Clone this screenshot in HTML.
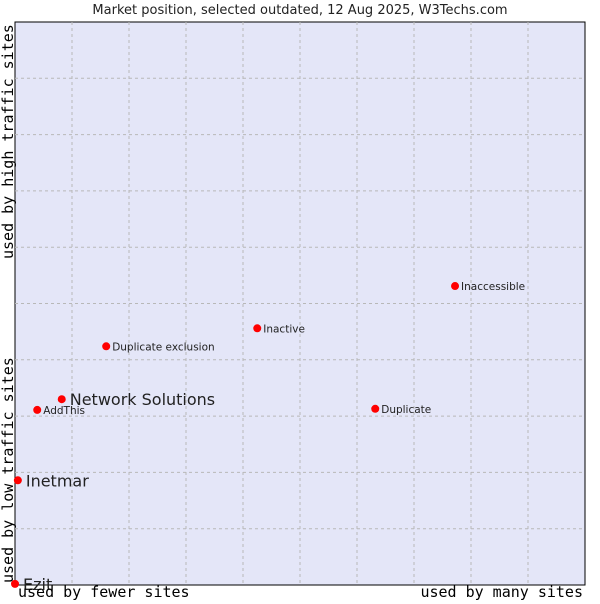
<!DOCTYPE html>
<html><head><meta charset="utf-8"><style>
body{margin:0;background:#fff;font-family:"DejaVu Sans","Liberation Sans",sans-serif}
svg text{font-family:"DejaVu Sans","Liberation Sans",sans-serif}
.mono{font-family:"DejaVu Sans Mono","Liberation Mono",monospace}
</style></head><body>
<svg id="chart" width="600" height="600" xmlns="http://www.w3.org/2000/svg">
<text x="300" y="14" text-anchor="middle" font-size="13" fill="#222">Market position, selected outdated, 12 Aug 2025, W3Techs.com</text>
<rect x="15" y="22" width="570" height="563" fill="#e4e6f8" stroke="#000" stroke-width="1"/>
<g id="grid"></g>
<g id="points"></g>
<text class="mono" x="18" y="597" font-size="15" fill="#000">used by fewer sites</text>
<text class="mono" x="583" y="597" text-anchor="end" font-size="15" fill="#000">used by many sites</text>
<text class="mono" transform="translate(13,583) rotate(-90)" font-size="15" fill="#000">used by low traffic sites</text>
<text class="mono" transform="translate(13,259) rotate(-90)" font-size="15" fill="#000">used by high traffic sites</text>
</svg>
<script>
const names=["Ezit","Inetmar","AddThis","Network Solutions","Duplicate exclusion","Inactive","Duplicate","Inaccessible"];
const xValues=[0,0.5,3.9,8.2,16,42.5,63.2,77.2];
const yValues=[0.2,18.6,31.1,33,42.4,45.6,31.3,53.1];
const bigLabel=[true,true,false,true,false,false,false,false];
const L=15,T=22,W=570,H=563;
const sx=v=>L+v/100*W, sy=v=>T+H-v/100*H;
const ns="http://www.w3.org/2000/svg";
const g=document.getElementById('grid');
for(let i=1;i<10;i++){
 const x=L+i*57;
 const l=document.createElementNS(ns,'line');
 
 
 l.setAttribute('x1',x);l.setAttribute('x2',x);l.setAttribute('y1',T);l.setAttribute('y2',T+H);
 l.setAttribute('stroke','#b8b8b8');l.setAttribute('stroke-dasharray','3,3');g.appendChild(l);
 const y=T+i*56.3;
 const h=document.createElementNS(ns,'line');
 
 
 h.setAttribute('x1',L);h.setAttribute('x2',L+W);h.setAttribute('y1',y);h.setAttribute('y2',y);
 h.setAttribute('stroke','#b8b8b8');h.setAttribute('stroke-dasharray','3,3');g.appendChild(h);
}
const p=document.getElementById('points');
names.forEach((n,i)=>{
 const x=sx(xValues[i]),y=sy(yValues[i]);
 const d=document.createElementNS(ns,'circle');
 
 
 d.setAttribute('cx',x);d.setAttribute('cy',y);d.setAttribute('r',4);d.setAttribute('fill','#f00');p.appendChild(d);
 const t=document.createElementNS(ns,'text');
 
 
 t.setAttribute('x',x+(bigLabel[i]?8:6));t.setAttribute('y',y+(bigLabel[i]?6:4));
 t.setAttribute('font-size',bigLabel[i]?16:10.5);t.setAttribute('fill','#222');
 t.textContent=n;p.appendChild(t);
});
</script>
</body></html>
